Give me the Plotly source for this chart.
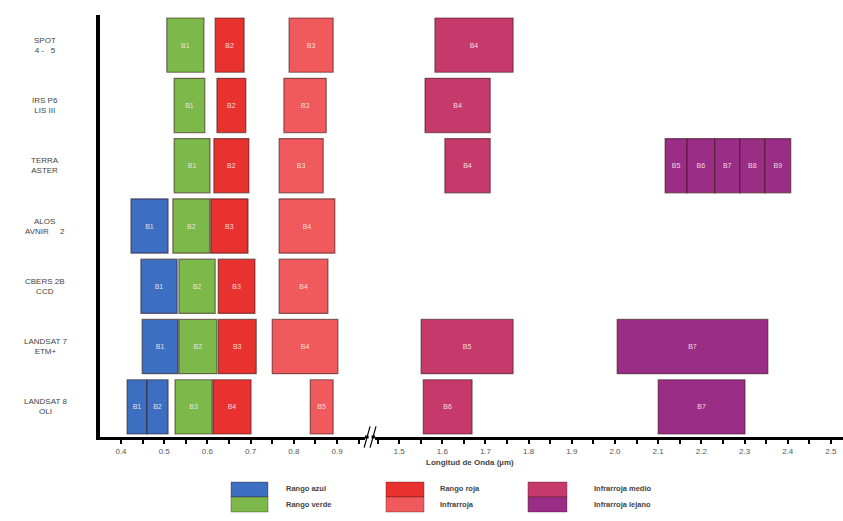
import plotly.graph_objects as go

# ---------------- data ----------------
sensor_keys = ["SPOT", "IRS", "TERRA", "ALOS", "CBERS", "L7", "L8"]
sensor_labels = ["SPOT<br>4 -   5", "IRS P6<br>LIS III", "TERRA<br>ASTER", "ALOS<br>AVNIR     2",
                 "CBERS 2B<br>CCD", "LANDSAT 7<br>ETM+", "LANDSAT 8<br>OLI"]

band_sensor = ["SPOT", "SPOT", "SPOT", "SPOT",
               "IRS", "IRS", "IRS", "IRS",
               "TERRA", "TERRA", "TERRA", "TERRA", "TERRA", "TERRA", "TERRA", "TERRA", "TERRA",
               "ALOS", "ALOS", "ALOS", "ALOS",
               "CBERS", "CBERS", "CBERS", "CBERS",
               "L7", "L7", "L7", "L7", "L7", "L7",
               "L8", "L8", "L8", "L8", "L8", "L8", "L8"]
band_name = ["B1", "B2", "B3", "B4",
             "B1", "B2", "B3", "B4",
             "B1", "B2", "B3", "B4", "B5", "B6", "B7", "B8", "B9",
             "B1", "B2", "B3", "B4",
             "B1", "B2", "B3", "B4",
             "B1", "B2", "B3", "B4", "B5", "B7",
             "B1", "B2", "B3", "B4", "B5", "B6", "B7"]
band_lo = [0.506, 0.618, 0.789, 1.583,
           0.523, 0.622, 0.777, 1.560,
           0.523, 0.615, 0.766, 1.606, 2.116, 2.167, 2.231, 2.289, 2.347,
           0.423, 0.520, 0.608, 0.766,
           0.446, 0.534, 0.625, 0.766,
           0.449, 0.534, 0.625, 0.750, 1.551, 2.005,
           0.414, 0.460, 0.525, 0.613, 0.838, 1.556, 2.100]
band_hi = [0.592, 0.685, 0.891, 1.764,
           0.594, 0.689, 0.875, 1.711,
           0.606, 0.696, 0.868, 1.711, 2.167, 2.231, 2.289, 2.347, 2.407,
           0.509, 0.606, 0.694, 0.895,
           0.530, 0.618, 0.710, 0.879,
           0.532, 0.622, 0.713, 0.902, 1.764, 2.354,
           0.460, 0.509, 0.611, 0.701, 0.891, 1.669, 2.301]
band_group = ["verde", "roja", "infra", "medio",
              "verde", "roja", "infra", "medio",
              "verde", "roja", "infra", "medio", "lejano", "lejano", "lejano", "lejano", "lejano",
              "azul", "verde", "roja", "infra",
              "azul", "verde", "roja", "infra",
              "azul", "verde", "roja", "infra", "medio", "lejano",
              "azul", "azul", "verde", "roja", "infra", "medio", "lejano"]

group_keys = ["azul", "verde", "roja", "infra", "medio", "lejano"]
group_names = ["Rango azul", "Rango verde", "Rango roja", "Infrarroja", "Infrarroja medio", "Infrarroja lejano"]
group_colors = ["#3c6fc2", "#7cb84a", "#e8322f", "#f05a5c", "#c53a6b", "#9a2d86"]

left_ticks = [0.4, 0.5, 0.6, 0.7, 0.8, 0.9]
right_ticks = [1.5, 1.6, 1.7, 1.8, 1.9, 2.0, 2.1, 2.2, 2.3, 2.4, 2.5]
x_title = "Longitud de Onda (µm)"

# ---------------- figure ----------------
fig = go.Figure()
for gk, gname, gcol in zip(group_keys, group_names, group_colors):
    for axis, sel in (("x", lambda v: v < 1.2), ("x2", lambda v: v >= 1.2)):
        ys, bases, widths, texts = [], [], [], []
        for s, n, lo, hi, g in zip(band_sensor, band_name, band_lo, band_hi, band_group):
            if g == gk and sel(lo):
                ys.append(s); bases.append(lo); widths.append(hi - lo); texts.append(n)
        if not ys:
            continue
        fig.add_trace(go.Bar(
            y=ys, x=widths, base=bases, orientation="h", xaxis=axis, yaxis="y",
            width=0.9, name=gname, showlegend=False,
            marker=dict(color=gcol, line=dict(color="rgba(50,15,15,0.55)", width=1.2)),
            text=texts, textposition="inside", insidetextanchor="middle",
            textfont=dict(size=7, color="rgba(255,235,235,0.9)", family="Liberation Sans"),
            constraintext="none", cliponaxis=False,
        ))

axis_common = dict(showline=True, linecolor="black", linewidth=3,
                   ticks="outside", ticklen=4, tickwidth=2, tickcolor="black",
                   showgrid=False, zeroline=False, anchor="y", automargin=False,
                   tickfont=dict(size=8, color="#555"))

fig.update_layout(
    width=843, height=521,
    margin=dict(l=100, r=0, t=15, b=84, autoexpand=False),
    paper_bgcolor="white", plot_bgcolor="white",
    barmode="overlay",
    font=dict(family="Liberation Sans", size=8, color="#333"),
    uniformtext=dict(mode="show", minsize=6),
    xaxis=dict(domain=[0, 0.3567], range=[0.3514, 0.9648], tickvals=left_ticks,
               ticktext=[f"{v:.1f}" for v in left_ticks],
               minor=dict(dtick=0.05, tick0=0.4, ticks="outside", ticklen=4, tickwidth=2, tickcolor="black"),
               **axis_common),
    xaxis2=dict(domain=[0.370, 1], range=[1.444, 2.528], tickvals=right_ticks,
                ticktext=[f"{v:.1f}" for v in right_ticks],
                minor=dict(dtick=0.05, tick0=1.5, ticks="outside", ticklen=4, tickwidth=2, tickcolor="black"),
                **axis_common),
    yaxis=dict(domain=[0, 1], categoryorder="array", categoryarray=sensor_keys,
               range=[6.5, -0.5], showticklabels=False, ticks="",
               showline=True, linecolor="black", linewidth=4, showgrid=False, zeroline=False,
               anchor="x", automargin=False),
)

# sensor labels
for k, lab in zip(sensor_keys, sensor_labels):
    fig.add_annotation(x=-0.074, xref="paper", y=k, yref="y", text=lab, showarrow=False,
                       xanchor="center", align="center",
                       font=dict(size=8, color="#444"))

# axis break
fig.add_shape(type="line", xref="paper", yref="paper", x0=0.3567, x1=0.370, y0=0, y1=0,
              line=dict(color="black", width=3))
for dx in (-0.004, 0.004):
    fig.add_shape(type="line", xref="paper", yref="paper",
                  x0=0.3595 + dx, x1=0.3675 + dx, y0=-0.025, y1=0.025,
                  line=dict(color="black", width=1.2))
fig.add_shape(type="rect", xref="paper", yref="paper", x0=0.3615, x1=0.3655, y0=-0.006, y1=0.006,
              fillcolor="white", line=dict(width=0))

# x title
fig.add_annotation(x=0.498, xref="paper", y=-0.0616, yref="paper", text="<b>" + x_title + "</b>",
                   showarrow=False, font=dict(size=8, color="#444"), yanchor="middle")

# manual legend
leg_cols = [(0.1763, 0.2261, 0.2476), (0.3849, 0.4361, 0.4549), (0.5760, 0.6285, 0.6622)]
leg_rows = [(-0.1066, -0.1422, -0.1230), (-0.1422, -0.1777, -0.1600)]
for i, (gname, gcol) in enumerate(zip(group_names, group_colors)):
    c = leg_cols[i // 2]
    r = leg_rows[i % 2]
    fig.add_shape(type="rect", xref="paper", yref="paper", x0=c[0], x1=c[1], y0=r[1], y1=r[0],
                  fillcolor=gcol, line=dict(color="rgba(60,20,20,0.35)", width=1))
    fig.add_annotation(x=c[2], xref="paper", y=r[2], yref="paper", text="<b>" + gname + "</b>",
                       showarrow=False, xanchor="left", yanchor="middle",
                       font=dict(size=7.5, color="#444"))

fig.write_html("out.html", config={"displayModeBar": False},
               post_script="document.body.style.margin='0';document.body.style.overflow='hidden';")
